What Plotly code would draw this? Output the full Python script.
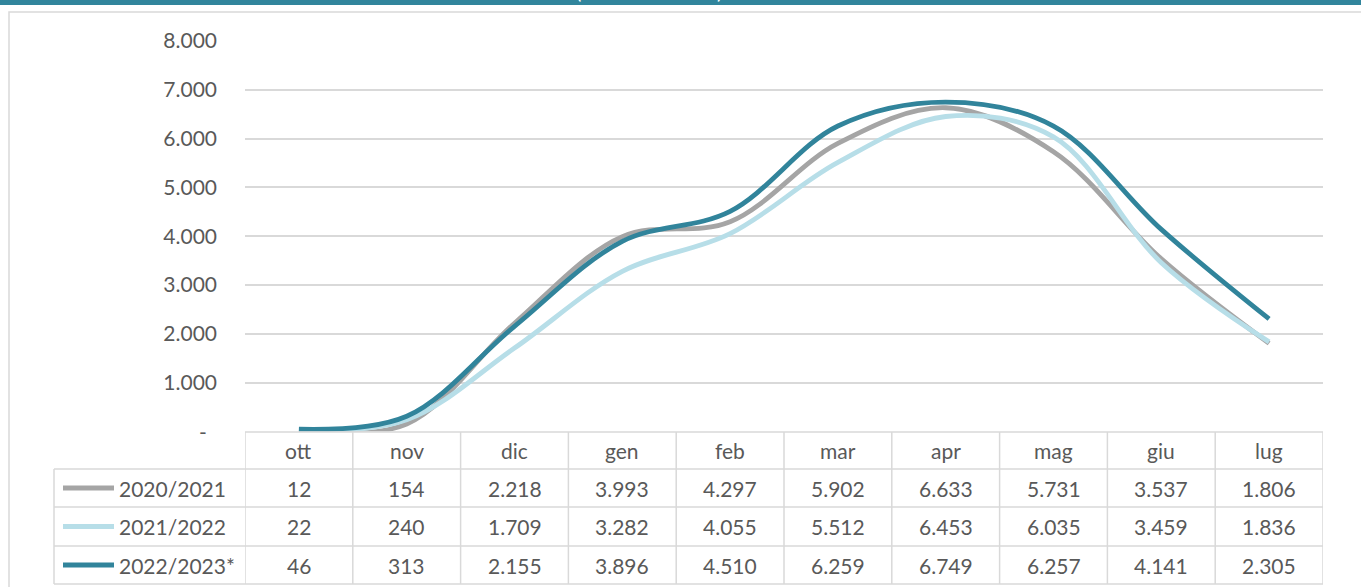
import plotly.graph_objects as go

# Monthly values per season
months = ["ott", "nov", "dic", "gen", "feb", "mar", "apr", "mag", "giu", "lug"]
season_names = ["2020/2021", "2021/2022", "2022/2023*"]
values_2020_2021 = [12, 154, 2218, 3993, 4297, 5902, 6633, 5731, 3537, 1806]
values_2021_2022 = [22, 240, 1709, 3282, 4055, 5512, 6453, 6035, 3459, 1836]
values_2022_2023 = [46, 313, 2155, 3896, 4510, 6259, 6749, 6257, 4141, 2305]
season_colors = ["#A5A5A5", "#B7DEE8", "#31849B"]

y_ticks = [1000, 2000, 3000, 4000, 5000, 6000, 7000, 8000]

W, H = 1361, 587
FONT = "Lato"
FS = 21
TXT = "#595959"
GRID = "#D9D9D9"


def py(p):
    """pixel row -> paper y"""
    return 1 - p / H


def px(p):
    """pixel column -> paper x"""
    return p / W


def fmt(v):
    return f"{v:,}".replace(",", ".")


series = [values_2020_2021, values_2021_2022, values_2022_2023]
x_idx = list(range(len(months)))

fig = go.Figure()
for name, vals, col in zip(season_names, series, season_colors):
    fig.add_trace(go.Scatter(
        x=x_idx, y=vals, name=name, mode="lines",
        line=dict(color=col, width=4.8, shape="spline", smoothing=1.0),
        showlegend=False, hoverinfo="skip",
    ))

# plot area geometry (pixels)
plot_left, plot_right = 245, 1323
plot_top, plot_bottom = 41, 431.5

shapes = []
annotations = []

# top banner
shapes.append(dict(type="rect", xref="paper", yref="paper",
                   x0=0, x1=1, y0=py(5), y1=1,
                   fillcolor="#31859C", line=dict(width=0), layer="below"))
annotations.append(dict(xref="paper", yref="paper", x=px(578), y=py(5),
                        text="(", showarrow=False, xanchor="center", yanchor="bottom",
                        font=dict(family=FONT, size=20, color="white")))
annotations.append(dict(xref="paper", yref="paper", x=px(719), y=py(5),
                        text=")", showarrow=False, xanchor="center", yanchor="bottom",
                        font=dict(family=FONT, size=20, color="white")))

# chart frame
shapes.append(dict(type="rect", xref="paper", yref="paper",
                   x0=px(9), x1=px(1375), y0=py(600), y1=py(12),
                   line=dict(color="#D9D9D9", width=1.5), layer="below"))

# zero label
annotations.append(dict(xref="paper", yref="y", x=px(203), y=0, text="-",
                        showarrow=False, xanchor="center", yanchor="middle",
                        font=dict(family=FONT, size=FS, color=TXT)))

# data table grid
row_edges = [432, 469, 507, 546, 584]
tl = dict(color=GRID, width=1.5)
# header top
shapes.append(dict(type="line", xref="x", yref="paper", x0=-0.5, x1=len(months) - 0.5,
                   y0=py(row_edges[0]), y1=py(row_edges[0]), line=tl))
for r in row_edges[1:]:
    shapes.append(dict(type="line", xref="paper", yref="paper", x0=px(54), x1=px(plot_right),
                       y0=py(r), y1=py(r), line=tl))
# column dividers
for i in range(len(months) + 1):
    shapes.append(dict(type="line", xref="x", yref="paper", x0=i - 0.5, x1=i - 0.5,
                       y0=py(row_edges[0]), y1=py(row_edges[-1]), line=tl))
shapes.append(dict(type="line", xref="paper", yref="paper", x0=px(54), x1=px(54),
                   y0=py(row_edges[1]), y1=py(row_edges[-1]), line=tl))

# header labels
hdr_y = py((row_edges[0] + row_edges[1]) / 2)
for i, m in enumerate(months):
    annotations.append(dict(xref="x", yref="paper", x=i, y=hdr_y, text=m,
                            showarrow=False, xanchor="center", yanchor="middle",
                            font=dict(family=FONT, size=FS, color=TXT)))

# table rows with legend keys
for k, (name, vals, col) in enumerate(zip(season_names, series, season_colors)):
    cy = (row_edges[k + 1] + row_edges[k + 2]) / 2
    shapes.append(dict(type="line", xref="paper", yref="paper",
                       x0=px(63), x1=px(114), y0=py(cy), y1=py(cy),
                       line=dict(color=col, width=5)))
    annotations.append(dict(xref="paper", yref="paper", x=px(117), y=py(cy), text=name,
                            showarrow=False, xanchor="left", yanchor="middle",
                            font=dict(family=FONT, size=FS, color=TXT)))
    for i, v in enumerate(vals):
        annotations.append(dict(xref="x", yref="paper", x=i, y=py(cy), text=fmt(v),
                                showarrow=False, xanchor="center", yanchor="middle",
                                font=dict(family=FONT, size=FS, color=TXT)))

fig.update_layout(
    width=W, height=H,
    margin=dict(l=0, r=0, t=0, b=0, pad=0, autoexpand=False),
    paper_bgcolor="white", plot_bgcolor="white",
    separators=",.",
    shapes=shapes, annotations=annotations,
    xaxis=dict(domain=[px(plot_left), px(plot_right)], range=[-0.5, len(months) - 0.5],
               showticklabels=False, showgrid=False, zeroline=False, showline=False,
               automargin=False, fixedrange=True),
    yaxis=dict(domain=[py(plot_bottom), py(plot_top)], range=[0, 8000],
               tickvals=y_ticks, ticktext=[fmt(v) for v in y_ticks],
               showgrid=True, gridcolor=GRID, gridwidth=1.5,
               zeroline=False, showline=False, ticks="",
               ticklabelstandoff=27, automargin=False,
               tickfont=dict(family=FONT, size=FS, color=TXT), fixedrange=True),
)

fig.write_html("out.html")
